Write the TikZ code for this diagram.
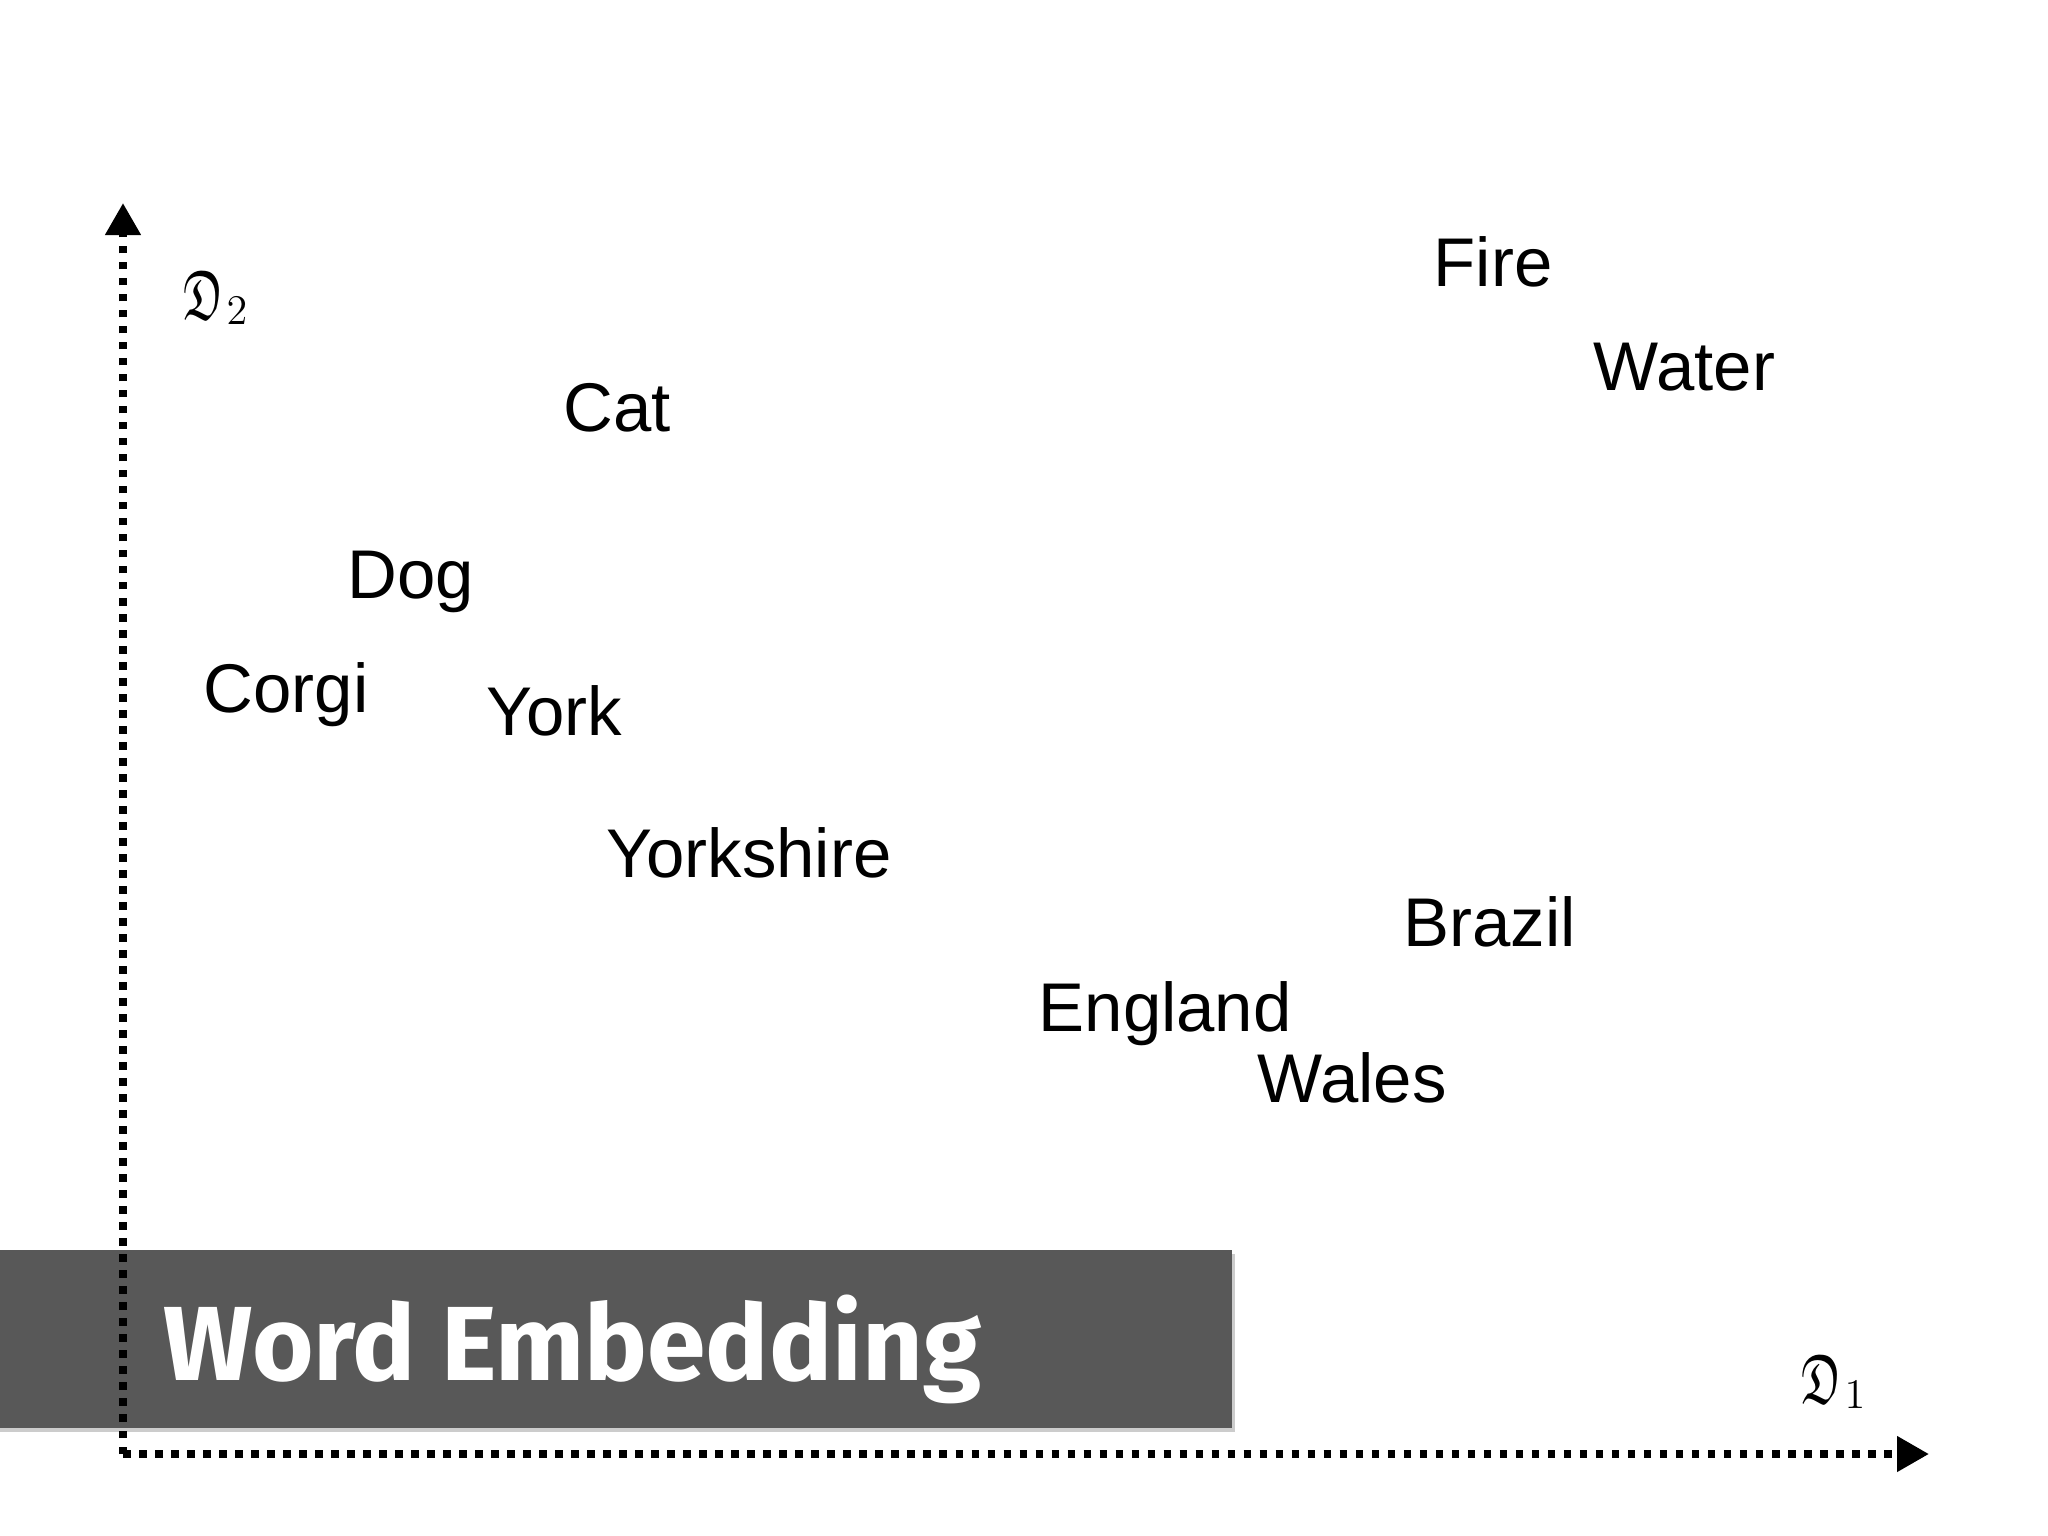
\documentclass[tikz,border=0pt]{standalone}
\usepackage{fontspec}
\usepackage{amssymb}
\usepackage{graphicx}
\setmainfont{Liberation Sans}
\newfontfamily\bannerfont{Fira Sans}
\usetikzlibrary{arrows.meta}
\definecolor{bannergray}{HTML}{585858}
\newcommand{\dimlabel}[1]{\scalebox{0.72}[1.05]{\fontsize{19pt}{22pt}\selectfont$\mathfrak{D}$}\kern0.03cm\raisebox{-0.05cm}{\fontsize{12.5pt}{14pt}\selectfont$#1$}}
\begin{document}
\begin{tikzpicture}[x=0.01cm,y=-0.01cm,
  word/.style={anchor=base west, inner sep=0pt, font=\fontsize{19.6pt}{23pt}\selectfont},
  dlabel/.style={anchor=base west, inner sep=0pt},
  axisline/.style={line width=0.075cm, dash pattern=on 0.075cm off 0.085cm, -{Triangle[length=0.32cm,width=0.34cm]}},
  bannerbox/.style={fill=bannergray},
  bannertext/.style={anchor=base west, inner sep=0pt, text=white, font=\bannerfont\bfseries\fontsize{30pt}{36pt}\selectfont}]
\useasboundingbox (0,0) rectangle (2048,1536);
\fill[white] (0,0) rectangle (2048,1536);
% banner
\fill[black!20] (0,1254) rectangle (1235,1432);
\fill[bannerbox] (0,1250) rectangle (1232,1428);
\node[bannertext] (title) at (163,1380) {Word Embedding};
% axes
\coordinate (origin) at (123,1454);
\coordinate (ytip) at (123,203);
\coordinate (xtip) at (1929,1454);
\draw[axisline] (origin) -- (ytip);
\draw[axisline] (origin) -- (xtip);
\node[dlabel] (d2) at (183,319) {\dimlabel{2}};
\node[dlabel] (d1) at (1801,1403) {\dimlabel{1}};
% words
\node[word] (fire) at (1433,286) {Fire};
\node[word] (water) at (1593,390) {Water};
\node[word] (cat) at (563,431) {Cat};
\node[word] (dog) at (347,598) {Dog};
\node[word] (corgi) at (203,712) {Corgi};
\node[word] (york) at (486,735) {York};
\node[word] (yorkshire) at (606,877) {Yorkshire};
\node[word] (brazil) at (1403,946) {Brazil};
\node[word] (england) at (1038,1031) {England};
\node[word] (wales) at (1257,1102) {Wales};
\end{tikzpicture}
\end{document}
